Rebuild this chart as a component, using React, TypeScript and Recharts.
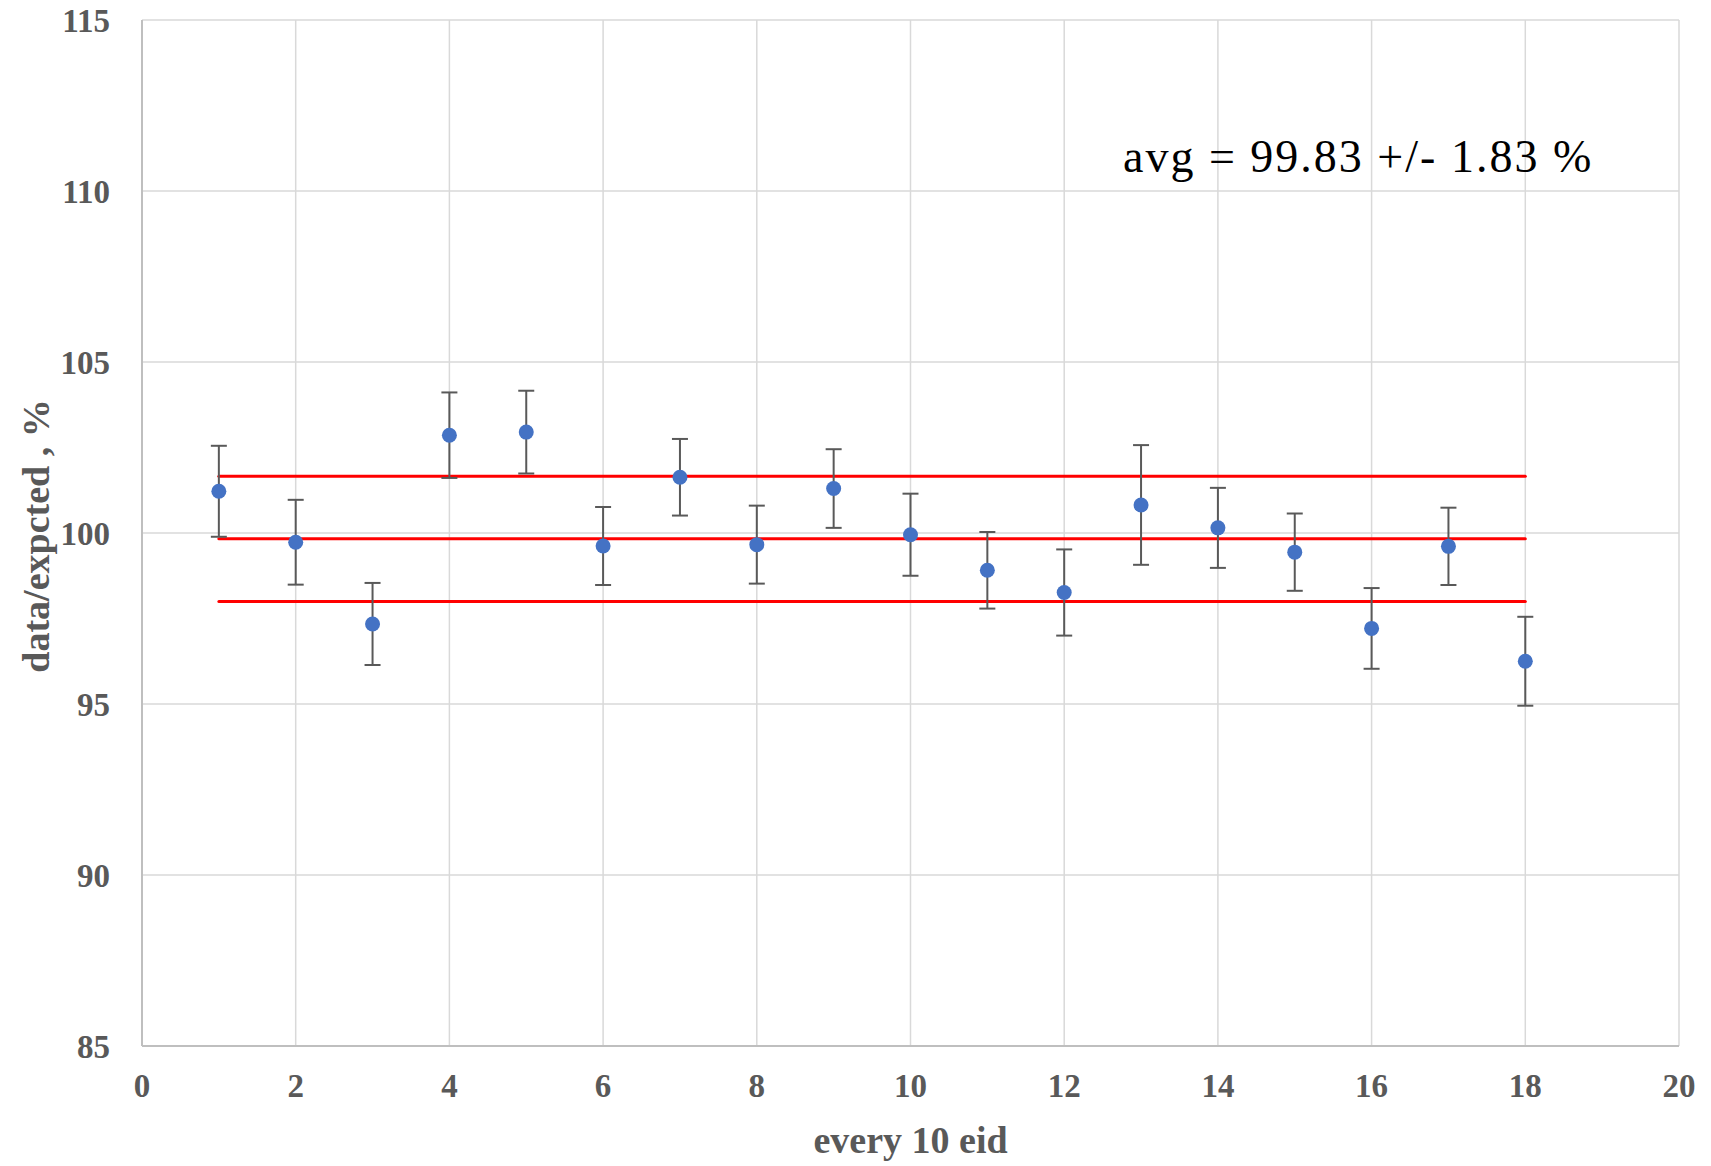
import React from 'react';
import {
  ScatterChart,
  Scatter,
  XAxis,
  YAxis,
  CartesianGrid,
  ErrorBar,
  ReferenceLine,
  Label,
} from 'recharts';

const eids = [1, 2, 3, 4, 5, 6, 7, 8, 9, 10, 11, 12, 13, 14, 15, 16, 17, 18];
const ratios = [
  101.22, 99.73, 97.34, 102.86, 102.95, 99.62, 101.63, 99.66, 101.3, 99.95,
  98.91, 98.26, 100.82, 100.15, 99.44, 97.21, 99.61, 96.25,
];
const errors = [
  1.33, 1.24, 1.2, 1.25, 1.21, 1.14, 1.12, 1.14, 1.15, 1.2, 1.12, 1.26, 1.75,
  1.17, 1.13, 1.18, 1.13, 1.3,
];
const bandLevels = [101.66, 99.83, 98.0];
const bandStart = 1;
const bandEnd = 18;
const xTicks = [0, 2, 4, 6, 8, 10, 12, 14, 16, 18, 20];
const yTicks = [85, 90, 95, 100, 105, 110, 115];
const xTitle = 'every 10 eid';
const yTitle = 'data/expcted , %';
const note = 'avg = 99.83 +/- 1.83 %';

const data = eids.map((x, i) => ({ x, y: ratios[i], err: errors[i] }));

const W = 1711;
const H = 1166;
const FONT = '"Liberation Serif", "Times New Roman", serif';
const GRAY = '#595959';

const XTitle = (props: any) => {
  const vb = props.viewBox || {};
  return (
    <text
      x={vb.x + vb.width / 2}
      y={vb.y + 107}
      textAnchor="middle"
      style={{ fontFamily: FONT, fontWeight: 'bold', fontSize: 38 }}
      fill={GRAY}
    >
      {xTitle}
    </text>
  );
};

const YTitle = (props: any) => {
  const vb = props.viewBox || {};
  const cx = 49;
  const cy = vb.y + vb.height / 2 + 3;
  return (
    <text
      x={cx}
      y={cy}
      textAnchor="middle"
      transform={`rotate(-90, ${cx}, ${cy})`}
      style={{ fontFamily: FONT, fontWeight: 'bold', fontSize: 38 }}
      fill={GRAY}
    >
      {yTitle}
    </text>
  );
};

export default function App() {
  const tickStyle = {
    fontFamily: FONT,
    fontWeight: 'bold' as const,
    fontSize: 33,
    fill: GRAY,
  };
  return (
    <div style={{ position: 'relative', width: W, height: H, margin: '-8px 0 0 -8px' }}>
      <ScatterChart
        width={W}
        height={H}
        margin={{ top: 20, right: 32, bottom: 0, left: 0 }}
      >
        <CartesianGrid stroke="#D9D9D9" strokeWidth={1.5} />
        <XAxis
          type="number"
          dataKey="x"
          domain={[0, 20]}
          ticks={xTicks}
          interval={0}
          height={120}
          tickLine={false}
          tickSize={0}
          tickMargin={28}
          axisLine={{ stroke: '#BFBFBF', strokeWidth: 2 }}
          tick={tickStyle}
          allowDataOverflow
        >
          <Label content={<XTitle />} />
        </XAxis>
        <YAxis
          type="number"
          dataKey="y"
          domain={[85, 115]}
          ticks={yTicks}
          interval={0}
          width={142}
          tickLine={false}
          tickSize={0}
          tickMargin={32}
          axisLine={{ stroke: '#BFBFBF', strokeWidth: 2 }}
          tick={tickStyle}
          allowDataOverflow
        >
          <Label content={<YTitle />} />
        </YAxis>
        {bandLevels.map((lv) => (
          <ReferenceLine
            key={lv}
            segment={[
              { x: bandStart, y: lv },
              { x: bandEnd, y: lv },
            ]}
            stroke="#FF0000"
            strokeWidth={3}
            strokeLinecap="round"
            ifOverflow="visible"
          />
        ))}
        <Scatter data={data} fill="#4472C4" isAnimationActive={false} shape={(p: any) => (
          <circle cx={p.cx} cy={p.cy} r={7.5} fill="#4472C4" />
        )}>
          <ErrorBar
            dataKey="err"
            direction="y"
            width={8}
            stroke="#595959"
            strokeWidth={2}
            isAnimationActive={false}
          />
        </Scatter>
      </ScatterChart>
      <svg
        width={W}
        height={H}
        style={{ position: 'absolute', left: 0, top: 0, pointerEvents: 'none' }}
      >
        <text
          x={1123}
          y={172}
          style={{ fontFamily: FONT, fontSize: 46, letterSpacing: 2 }}
          fill="#000000"
        >
          {note}
        </text>
      </svg>
    </div>
  );
}
